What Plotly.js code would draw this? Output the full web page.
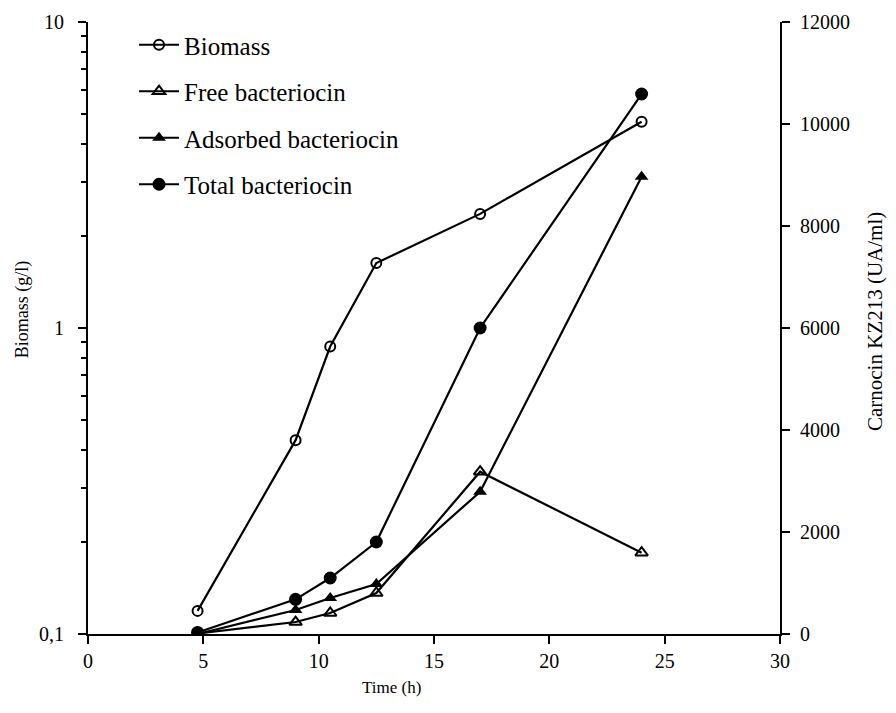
<!DOCTYPE html>
<html>
<head>
<meta charset="utf-8">
<script src="https://cdn.plot.ly/plotly-3.0.1.min.js"></script>
<style>html,body{margin:0;padding:0;background:#fff;}#chart{width:896px;height:713px;}</style>
</head>
<body>
<div id="chart"></div>
<script>
const time = [4.75, 9, 10.5, 12.5, 17, 24];
const biomass = [0.119, 0.43, 0.87, 1.63, 2.36, 4.72];
const freeBact = [10, 235, 412, 804, 3182, 1594];
const adsorbedBact = [0, 470, 706, 980, 2790, 8967];
const totalBact = [30, 680, 1098, 1804, 6000, 10588];
const leftTickVals = [0.1, 1, 10];
const leftTickText = ['0,1', '1', '10'];
const seriesNames = ['Biomass', 'Free bacteriocin', 'Adsorbed bacteriocin', 'Total bacteriocin'];
const xTitle = 'Time (h)';
const yTitle = 'Biomass (g/l)';
const y2Title = 'Carnocin KZ213 (UA/ml)';

const minorVals = [];
[0.1, 1].forEach(d => { for (let k = 2; k <= 9; k++) minorVals.push(+(d * k).toFixed(2)); });

const FONT = 'Liberation Serif, Times New Roman, serif';
const line = {color: '#000', width: 2.2};

const traces = [
  {x: time, y: biomass, name: seriesNames[0], yaxis: 'y', mode: 'lines+markers', line: line,
   legendgroup: 'a',
   marker: {symbol: 'circle-open', size: 10, color: '#000', line: {width: 2, color: '#000'}}},
  {x: time, y: freeBact, name: seriesNames[1], yaxis: 'y2', mode: 'lines+markers', line: line,
   legendgroup: 'b',
   marker: {symbol: 'triangle-up-open', size: 11, color: '#000', line: {width: 2, color: '#000'}}},
  {x: time, y: adsorbedBact, name: seriesNames[2], yaxis: 'y2', mode: 'lines+markers', line: line,
   legendgroup: 'c',
   marker: {symbol: 'triangle-up', size: 12, color: '#000', line: {width: 0}}},
  {x: time, y: totalBact, name: seriesNames[3], yaxis: 'y2', mode: 'lines+markers', line: line,
   legendgroup: 'd',
   marker: {symbol: 'circle', size: 13, color: '#000', line: {width: 0}}}
];

const layout = {
  width: 896, height: 713,
  margin: {l: 88, r: 116, t: 22, b: 79},
  paper_bgcolor: '#fff', plot_bgcolor: '#fff',
  font: {family: FONT, color: '#000', size: 20},
  showlegend: true,
  legend: {x: 0.0665, y: 1.0, xanchor: 'left', yanchor: 'top', bgcolor: 'rgba(0,0,0,0)',
           font: {family: FONT, size: 25, color: '#000'}, tracegroupgap: 11, itemwidth: 40},
  xaxis: {
    range: [0, 30], dtick: 5, tick0: 0, showgrid: false, zeroline: false,
    showline: true, linecolor: '#000', linewidth: 2, ticks: 'outside', ticklen: 8, tickwidth: 2, tickcolor: '#000',
    tickfont: {family: FONT, size: 20}
  },
  yaxis: {
    type: 'log', range: [-1, 1], tickmode: 'array', tickvals: leftTickVals, ticktext: leftTickText,
    showgrid: false, zeroline: false, showline: true, linecolor: '#000', linewidth: 2,
    ticks: 'outside', ticklen: 8, tickwidth: 2, tickcolor: '#000', ticklabelstandoff: 10,
    minor: {tickmode: 'array', tickvals: minorVals, ticks: 'outside', ticklen: 5, tickwidth: 2, tickcolor: '#000', showgrid: false},
    tickfont: {family: FONT, size: 20}
  },
  yaxis2: {
    overlaying: 'y', side: 'right', range: [0, 12000], dtick: 2000, tick0: 0,
    showgrid: false, zeroline: false, showline: true, linecolor: '#000', linewidth: 2,
    ticks: 'outside', ticklen: 8, tickwidth: 2, tickcolor: '#000', ticklabelstandoff: 6,
    tickformat: 'd',
    tickfont: {family: FONT, size: 20}
  },
  annotations: [
    {text: xTitle, xref: 'paper', yref: 'paper', x: 0.439, y: -0.088, xanchor: 'center', yanchor: 'middle',
     showarrow: false, font: {family: FONT, size: 17, color: '#000'}},
    {text: yTitle, xref: 'paper', yref: 'paper', x: -0.095, y: 0.531, xanchor: 'center', yanchor: 'middle',
     textangle: -90, showarrow: false, font: {family: FONT, size: 18, color: '#000'}},
    {text: y2Title, xref: 'paper', yref: 'paper', x: 1.137, y: 0.511, xanchor: 'center', yanchor: 'middle',
     textangle: -90, showarrow: false, font: {family: FONT, size: 21, color: '#000'}}
  ]
};

Plotly.newPlot('chart', traces, layout, {displayModeBar: false, staticPlot: true});
</script>
</body>
</html>
